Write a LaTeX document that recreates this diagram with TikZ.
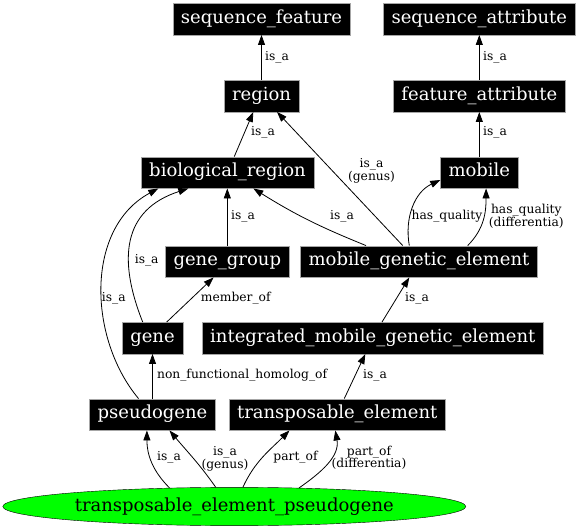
\documentclass[tikz,border=0pt]{standalone}
\usepackage{fontspec}
\setmainfont{DejaVu Serif}
\usetikzlibrary{arrows.meta,shapes.geometric}

\begin{document}
\begin{tikzpicture}[
		x=1pt, y=1pt,
		term/.style={rectangle, fill=black, draw=gray!70, text=white, font=\fontsize{18}{20}\selectfont, minimum height=31.5pt, text height=13pt, text depth=4pt, inner xsep=8pt, inner ysep=0pt},
		focus/.style={ellipse, fill=green, draw=black, font=\fontsize{18}{20}\selectfont, minimum width=463pt, minimum height=38.3pt, inner sep=0pt},
		rel/.style={-{Triangle[length=10pt,width=7pt]}, black, line width=0.8pt},
		lbl/.style={font=\fontsize{12.3}{12.7}\selectfont, inner sep=0pt, align=center}
	]
	\useasboundingbox (0,0) rectangle (576,528);

	% terms
	\node[term] (seqfeat) at (261.5,509) {sequence\_feature};
	\node[term] (seqattr) at (479.3,509) {sequence\_attribute};
	\node[term] (region) at (261.5,432) {region};
	\node[term] (featattr) at (479.3,432) {feature\_attribute};
	\node[term] (bioreg) at (227.5,355.5) {biological\_region};
	\node[term] (mobile) at (479.3,355.5) {mobile};
	\node[term] (genegroup) at (227.3,266.5) {gene\_group};
	\node[term] (mge) at (419,266.5) {mobile\_genetic\_element};
	\node[term] (gene) at (152.5,190) {gene};
	\node[term] (imge) at (372.8,190) {integrated\_mobile\_genetic\_element};
	\node[term] (pseudogene) at (152.5,113.5) {pseudogene};
	\node[term] (transel) at (337.2,113.5) {transposable\_element};
	\node[focus] (tep) at (234.3,21.5) {transposable\_element\_pseudogene};

	% relations
	\draw[rel] (region) -- (seqfeat) node[lbl] at (277,471) {is\_a};
	\draw[rel] (featattr) -- (seqattr) node[lbl] at (495,471) {is\_a};
	\draw[rel] ([xshift=6.8pt]bioreg.north) -- ([xshift=-8.2pt]region.south)
		node[lbl] at (263,395.3) {is\_a};
	\draw[rel] (mobile) -- (featattr) node[lbl] at (495,395.3) {is\_a};
	\draw[rel] ([xshift=-16.3pt]mge.north) -- ([xshift=15.5pt]region.south)
		node[lbl] at (371.5,357) {is\_a\\(genus)};
	\draw[rel] ([xshift=-53pt]mge.north) to[out=158, in=-32] ([xshift=25.8pt]bioreg.south)
		node[lbl] at (342,312) {is\_a};
	\draw[rel] ([xshift=-9.7pt]mge.north) to[out=100, in=-155] (mobile.west |- 0,348)
		node[lbl] at (447,312) {has\_quality};
	\draw[rel] ([xshift=48.7pt]mge.north) to[out=45, in=-90] ([xshift=6.8pt]mobile.south)
		node[lbl] at (526.3,312) {has\_quality\\(differentia)};
	\draw[rel] (genegroup) -- (genegroup |- bioreg.south) node[lbl] at (243,312) {is\_a};
	\draw[rel] ([xshift=-9.8pt]gene.north) .. controls (118,268) and (122,318) .. ([xshift=-39.2pt]bioreg.south)
		node[lbl] at (146.7,268) {is\_a};
	\draw[rel] ([xshift=14.2pt]gene.north) -- ([xshift=-13.7pt]genegroup.south)
		node[lbl] at (235.8,229.7) {member\_of};
	\draw[rel] ([xshift=-14pt]pseudogene.north) .. controls (88,190) and (85,300) .. ([xshift=-69.2pt]bioreg.south)
		node[lbl] at (113.8,229.7) {is\_a};
	\draw[rel] (pseudogene) -- (gene) node[lbl, anchor=west] at (156.7,153) {non\_functional\_homolog\_of};
	\draw[rel] ([xshift=7.1pt]transel.north) -- ([xshift=-7.5pt]imge.south)
		node[lbl] at (375,152.3) {is\_a};
	\draw[rel] ([xshift=9.2pt]imge.north) -- ([xshift=-9.7pt]mge.south)
		node[lbl] at (417,229.7) {is\_a};
	\draw[rel] (tep.164) to[out=135, in=-90] ([xshift=-5.6pt]pseudogene.south)
		node[lbl] at (169,70.7) {is\_a};
	\draw[rel] (tep.134) to[out=125, in=-50] ([xshift=17pt]pseudogene.south)
		node[lbl] at (225,69.3) {is\_a\\(genus)};
	\draw[rel] (tep.66) to[out=65, in=-135] ([xshift=-47.7pt]transel.south)
		node[lbl] at (295.5,70.7) {part\_of};
	\draw[rel] (tep.16) to[out=35, in=-80] ([xshift=-1.9pt]transel.south)
		node[lbl] at (369,70.3) {part\_of\\(differentia)};
\end{tikzpicture}
\end{document}
